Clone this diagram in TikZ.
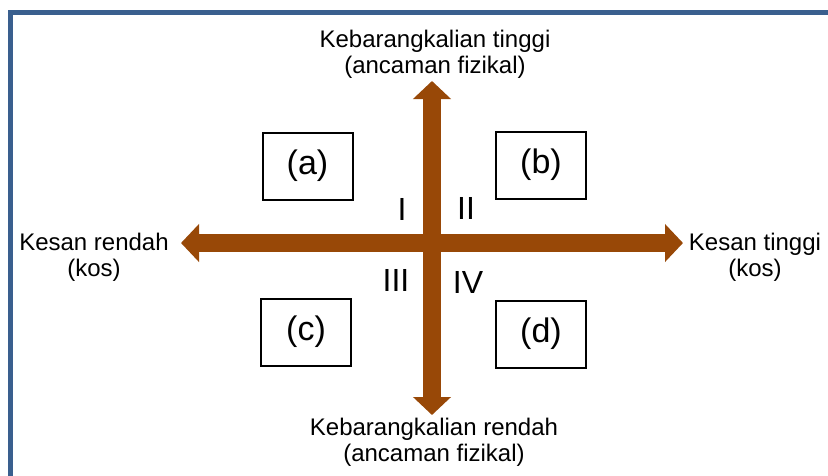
\documentclass[tikz,border=0pt]{standalone}
\usepackage{fontspec}
\setmainfont{Liberation Sans}
\usetikzlibrary{arrows.meta}
\definecolor{axisbrown}{HTML}{984807}
\definecolor{framebl}{HTML}{3A5F8E}
\begin{document}
\begin{tikzpicture}[x=1pt,y=-1pt,
  lbl/.style={font=\fontsize{24}{26}\selectfont, align=center, inner sep=0pt},
  quadnum/.style={font=\fontsize{32}{36}\selectfont, inner sep=0pt},
  qbox/.style={draw=black, line width=2pt, minimum width=90pt, minimum height=67pt, inner sep=0pt, font=\fontsize{34}{38}\selectfont},
  axis/.style={draw=axisbrown, line width=18.5pt, line cap=butt,
    {Triangle[width=37pt,length=18pt]}-{Triangle[width=37pt,length=18pt]}}]
\useasboundingbox (0,0) rectangle (828,475);
\fill[white] (0,0) rectangle (828,475);
\draw[framebl, line width=5pt] (10.5,12.5) rectangle (850,500);
% axes
\coordinate (L) at (181,243);
\coordinate (R) at (683,243);
\coordinate (T) at (432,81);
\coordinate (B) at (432,415);
\draw[axis] (L) -- (R);
\draw[axis] (B) -- (T);
% axis labels
\node[lbl] (top) at (435,54) {Kebarangkalian tinggi\\(ancaman fizikal)};
\node[lbl] (bot) at (434,442) {Kebarangkalian rendah\\(ancaman fizikal)};
\node[lbl] (left) at (94,257) {Kesan rendah\\(kos)};
\node[lbl] (right) at (755,257) {Kesan tinggi\\(kos)};
% quadrant numerals
\node[quadnum] (q1) at (402,209) {I};
\node[quadnum] (q2) at (466,208) {II};
\node[quadnum] (q3) at (396,280) {III};
\node[quadnum] (q4) at (468,282) {IV};
% boxes
\node[qbox] (a) at (307.5,166) {(a)};
\node[qbox] (b) at (541,165) {(b)};
\node[qbox] (c) at (306,332) {(c)};
\node[qbox] (d) at (541,334) {(d)};
\end{tikzpicture}
\end{document}
